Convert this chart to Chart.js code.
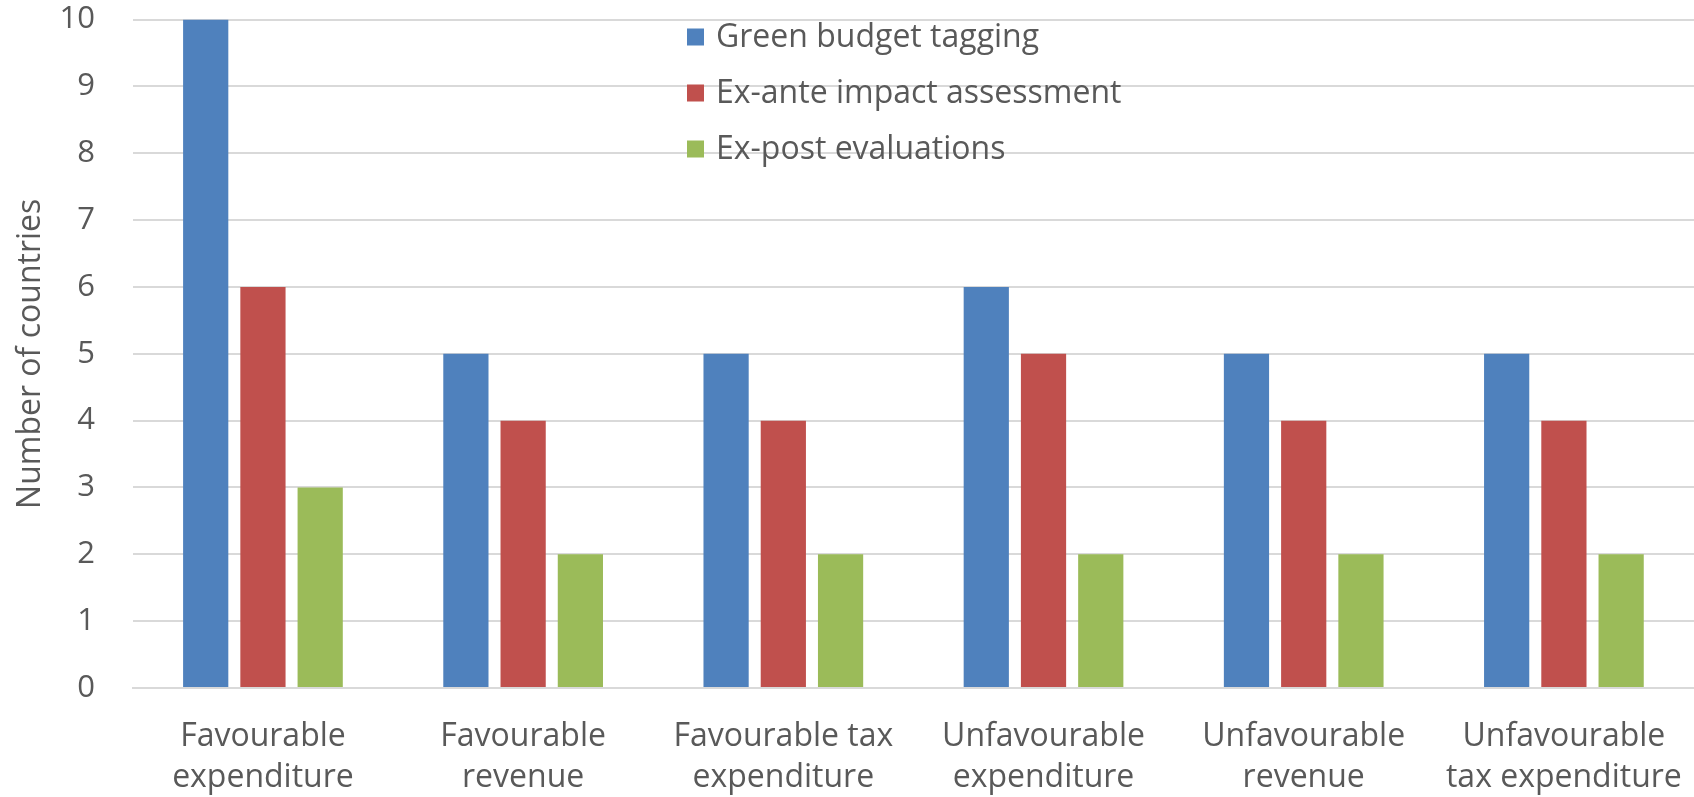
<!DOCTYPE html>
<html>
<head>
<meta charset="utf-8">
<script src="https://cdn.jsdelivr.net/npm/chart.js@4.4.1/dist/chart.umd.min.js"></script>
<style>
  html, body { margin: 0; padding: 0; background: #fff; }
  #wrap { width: 1694px; height: 797px; position: relative; overflow: hidden; }
</style>
</head>
<body>
<div id="wrap"><canvas id="chart"></canvas></div>
<script>
// Data
const categories = [
    ['Favourable', 'expenditure'],
    ['Favourable', 'revenue'],
    ['Favourable tax', 'expenditure'],
    ['Unfavourable', 'expenditure'],
    ['Unfavourable', 'revenue'],
    ['Unfavourable', 'tax expenditure']
];
const seriesNames = ['Green budget tagging', 'Ex-ante impact assessment', 'Ex-post evaluations'];
const greenTagging = [10, 5, 5, 6, 5, 5];
const exAnte = [6, 4, 4, 5, 4, 4];
const exPost = [3, 2, 2, 2, 2, 2];
const yTicks = [0, 1, 2, 3, 4, 5, 6, 7, 8, 9, 10];

const colors = ['#4f81bd', '#c0504d', '#9bbb59'];
const textColor = '#595959';
const fontFamily = '"Open Sans", "Noto Sans", sans-serif';
const fontSize = 32;

// legend drawn inside the plot area, like the original (gridlines show through)
const innerLegend = {
    id: 'innerLegend',
    afterDraw(chart) {
        const ctx = chart.ctx;
        const x0 = 687, y0 = 37, rowH = 56, box = 17;
        ctx.save();
        ctx.font = fontSize + 'px ' + fontFamily;
        ctx.textBaseline = 'middle';
        chart.data.datasets.forEach((ds, i) => {
            const y = y0 + i * rowH;
            ctx.fillStyle = ds.backgroundColor;
            ctx.fillRect(x0, y - box / 2, box, box);
            ctx.fillStyle = textColor;
            ctx.fillText(ds.label, x0 + 29, y + 1);
        });
        ctx.restore();
    }
};

const datasets = [greenTagging, exAnte, exPost].map((vals, i) => ({
    label: seriesNames[i],
    data: vals,
    backgroundColor: colors[i],
    barPercentage: 0.79,
    categoryPercentage: 0.66
}));

new Chart(document.getElementById('chart'), {
    type: 'bar',
    data: { labels: categories, datasets },
    options: {
        responsive: true,
        maintainAspectRatio: false,
        animation: false,
        // the original plot area runs a few pixels past the right edge
        layout: { padding: { top: 0, right: -5, left: 12, bottom: 0 } },
        scales: {
            y: {
                min: 0, max: 10,
                afterBuildTicks: axis => { axis.ticks = yTicks.map(v => ({ value: v })); },
                ticks: { color: textColor, font: { size: 31, family: fontFamily }, padding: 1 },
                grid: { color: '#d9d9d9', lineWidth: 2, drawTicks: true, tickLength: 37, tickColor: 'rgba(0,0,0,0)' },
                border: { display: false },
                title: {
                    display: true, text: 'Number of countries', color: textColor,
                    font: { size: fontSize, family: fontFamily }, padding: { top: 0, bottom: 8 }
                }
            },
            x: {
                afterFit: axis => { axis.height = 109; },
                // gap under the axis comes from an invisible tick length, so the end labels don't squeeze the categories
                ticks: { color: textColor, font: { size: fontSize, family: fontFamily, lineHeight: 1.28 }, padding: 0, maxRotation: 0 },
                grid: { display: false, drawTicks: true, tickLength: 28, tickColor: 'rgba(0,0,0,0)' },
                border: { color: '#d9d9d9', width: 2 }
            }
        },
        plugins: {
            legend: { display: false },
            tooltip: { enabled: false }
        }
    },
    plugins: [innerLegend]
});
</script>
</body>
</html>
